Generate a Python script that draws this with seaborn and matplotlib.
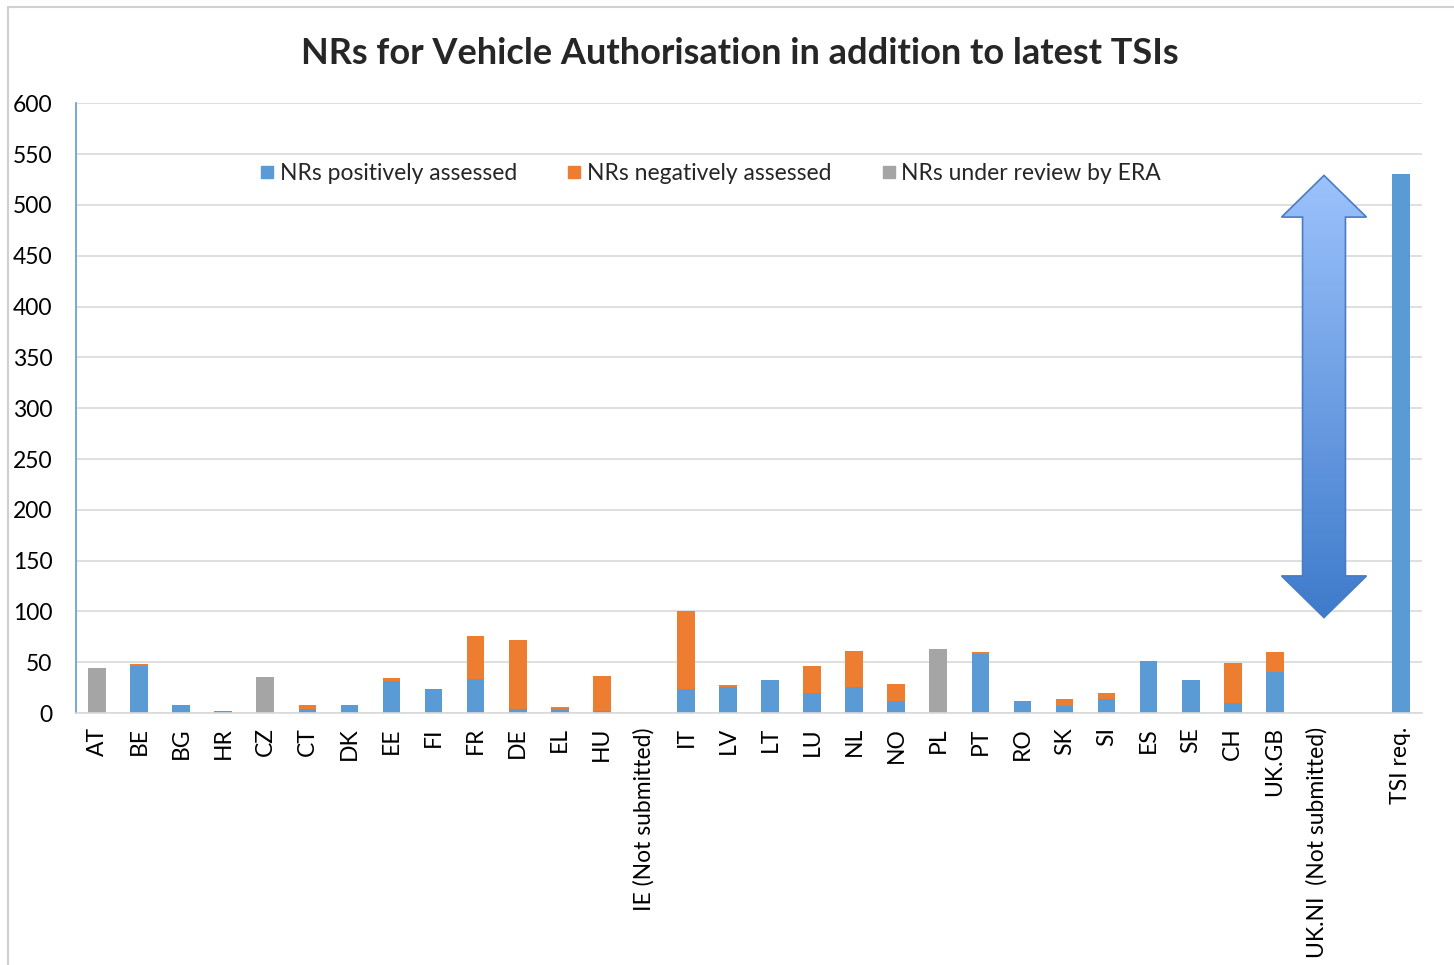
import numpy as np
import pandas as pd
import matplotlib
matplotlib.use("Agg")
import matplotlib.pyplot as plt
import seaborn as sns
from matplotlib.patches import Polygon, Rectangle
from matplotlib.lines import Line2D

sns.set_theme(style="white")
plt.rcParams['font.family'] = ['Lato', 'DejaVu Sans']

# data
countries = ["AT", "BE", "BG", "HR", "CZ", "CT", "DK", "EE", "FI", "FR", "DE", "EL", "HU",
             "IE (Not submitted)", "IT", "LV", "LT", "LU", "NL", "NO", "PL", "PT", "RO", "SK",
             "SI", "ES", "SE", "CH", "UK.GB", "UK.NI  (Not submitted)", " ", "TSI req."]
positive = [0, 46, 8, 2, 0, 4, 8, 32, 24, 34, 4, 4, 2,
            0, 24, 26, 33, 20, 26, 12, 0, 58, 12, 7,
            14, 51, 33, 10, 40, 0, 0, 530]
negative = [0, 2, 0, 0, 0, 4, 0, 3, 0, 42, 68, 2, 35,
            0, 76, 2, 0, 26, 35, 17, 0, 2, 0, 7,
            6, 0, 0, 39, 20, 0, 0, 0]
review = [44, 0, 0, 0, 36, 0, 0, 0, 0, 0, 0, 0, 0,
          0, 0, 0, 0, 0, 0, 0, 63, 0, 0, 0,
          0, 0, 0, 0, 0, 0, 0, 0]

BLUE, ORANGE, GRAY = "#5B9BD5", "#ED7D31", "#A5A5A5"

df = pd.DataFrame({"country": countries, "pos": positive, "neg": negative, "rev": review})
df["total"] = df["pos"] + df["neg"]

fig = plt.figure(figsize=(14.54, 9.65), dpi=100)
ax = fig.add_axes([0.0523, 0.261, 0.9257, 0.632])

# stacked bars: total in orange, positive drawn over it, review in gray
sns.barplot(data=df, x="country", y="total", order=countries, color=ORANGE,
            width=0.42, linewidth=0, saturation=1, ax=ax)
sns.barplot(data=df, x="country", y="pos", order=countries, color=BLUE,
            width=0.42, linewidth=0, saturation=1, ax=ax)
sns.barplot(data=df, x="country", y="rev", order=countries, color=GRAY,
            width=0.42, linewidth=0, saturation=1, ax=ax)

ax.set_xlim(-0.5, len(countries) - 0.5)
ax.set_ylim(0, 600)
ax.set_yticks(np.arange(0, 601, 50))
ax.yaxis.grid(True, color="#D9D9D9", linewidth=1.2)
ax.set_axisbelow(True)
ax.set_xlabel("")
ax.set_ylabel("")
ax.tick_params(axis="x", labelrotation=90, labelsize=16.5, pad=10, length=0, colors="black")
ax.tick_params(axis="y", labelsize=16.5, pad=17, length=0, colors="black")
for s in ["top", "right"]:
    ax.spines[s].set_visible(False)
ax.spines["left"].set_color(BLUE)
ax.spines["left"].set_linewidth(1.2)
ax.spines["bottom"].set_color("#D9D9D9")
ax.spines["bottom"].set_linewidth(1.2)

# legend
handles = [Line2D([0], [0], marker="s", linestyle="", color=c, markersize=9, label=l)
           for c, l in [(BLUE, "NRs positively assessed"),
                        (ORANGE, "NRs negatively assessed"),
                        (GRAY, "NRs under review by ERA")]]
ax.legend(handles=handles, loc="upper left", bbox_to_anchor=(0.125, 0.928), ncol=3,
          frameon=False, fontsize=16.5, handlelength=0.6, handletextpad=0.25,
          columnspacing=2.2, borderpad=0.2)

# double-headed gradient arrow
xc, hw, sw = 29.17, 1.01, 0.51
ytop, yhb, ybb, ybot = 529, 488, 135, 94
pts = [(xc, ytop), (xc + hw, yhb), (xc + sw, yhb), (xc + sw, ybb), (xc + hw, ybb),
       (xc, ybot), (xc - hw, ybb), (xc - sw, ybb), (xc - sw, yhb), (xc - hw, yhb)]
poly = Polygon(pts, closed=True, facecolor="none", edgecolor="#4A7CC4", linewidth=1.2, zorder=5)
ax.add_patch(poly)
cmap = matplotlib.colors.LinearSegmentedColormap.from_list("arr", ["#3E7BCB", "#9CC2FC"])
grad = np.linspace(0, 1, 256).reshape(-1, 1)
im = ax.imshow(grad, cmap=cmap, origin="lower", aspect="auto",
               extent=(xc - hw, xc + hw, ybot, ytop), zorder=4)
im.set_clip_path(poly)
ax.set_xlim(-0.5, len(countries) - 0.5)
ax.set_ylim(0, 600)

fig.text(0.509, 0.945, "NRs for Vehicle Authorisation in addition to latest TSIs",
         ha="center", va="center", fontsize=26, fontweight="bold")

# outer chart frame
fig.patches.append(Rectangle((0.0055, -0.01), 1.1, 1.003, transform=fig.transFigure,
                             fill=False, edgecolor="#D0D0D0", linewidth=1.5))

fig.savefig("out.png", dpi=100)
